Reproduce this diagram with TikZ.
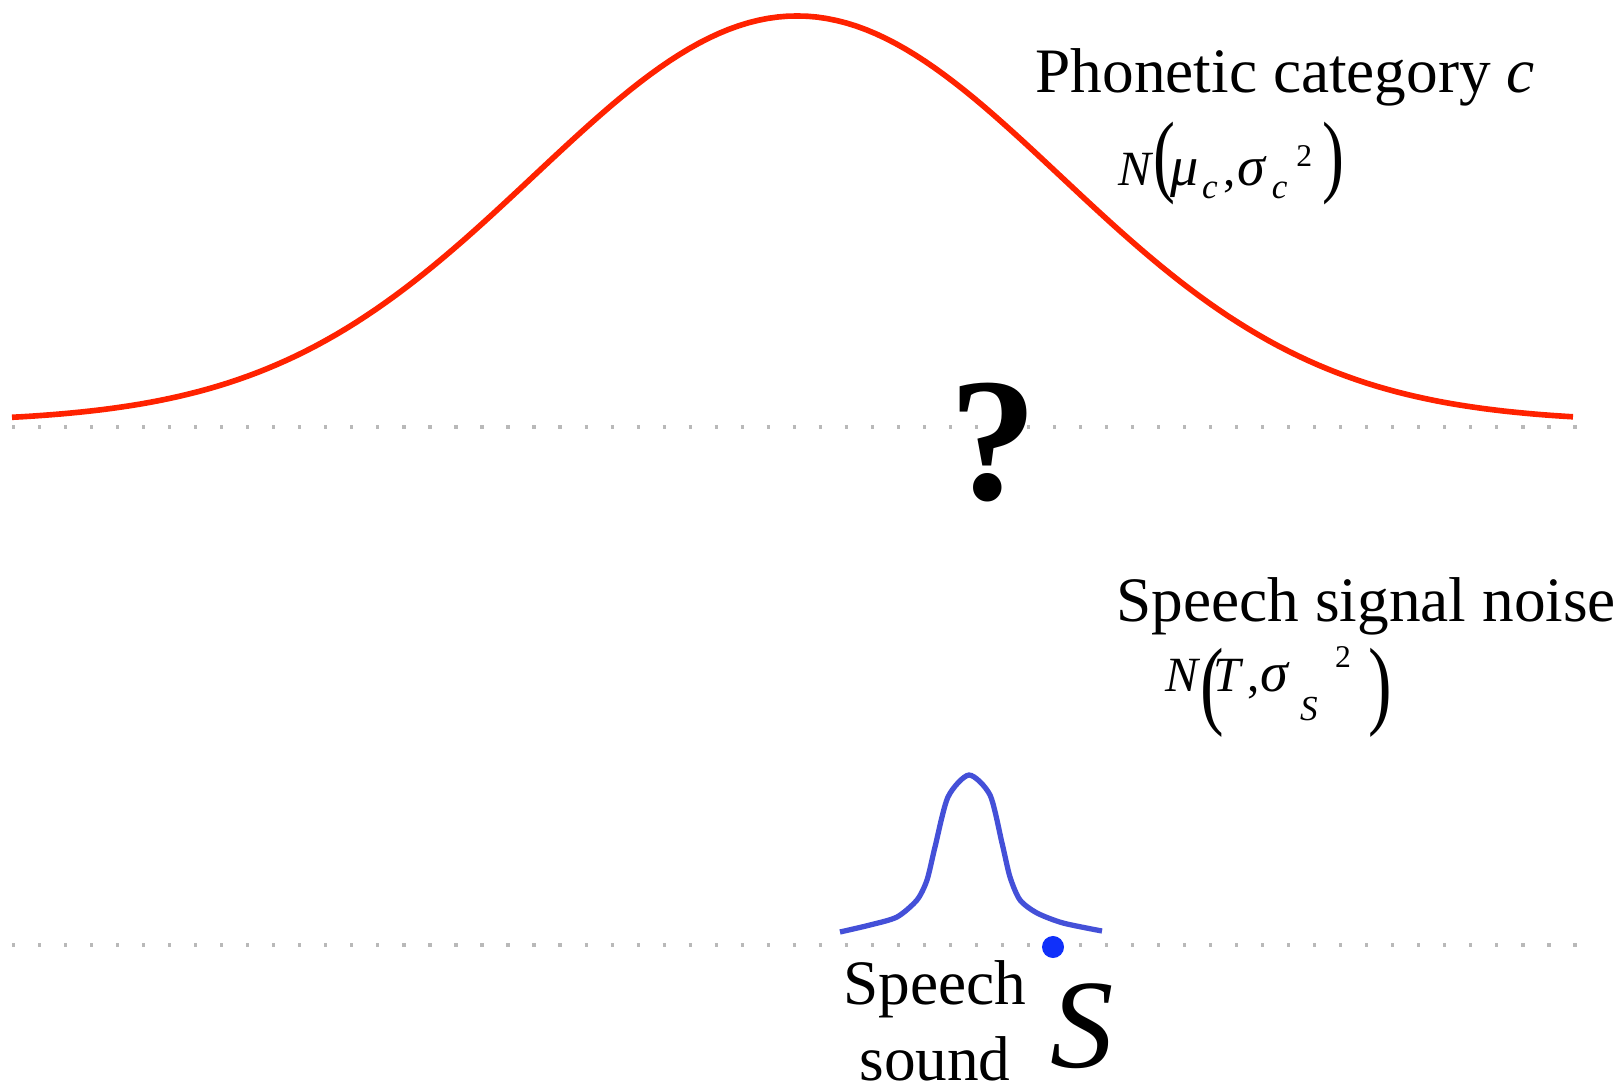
\documentclass[tikz,border=0pt]{standalone}
\usepackage{fontspec}
\usepackage{graphicx}
\setmainfont{Liberation Serif}
\usetikzlibrary{positioning}

\definecolor{catred}{RGB}{255,34,0}
\definecolor{noiseblue}{RGB}{68,80,216}
\definecolor{dotblue}{RGB}{16,48,250}

% pieces of the equation labels: tall thin bracket, greek letter, lowered index, raised power
\newcommand{\eqparen}[3]{\raisebox{#2}{\scalebox{0.72}[1]{\fontsize{#1}{#1}\selectfont #3}}}
\newcommand{\eqgreek}[1]{{\fontsize{16}{16}\selectfont\itshape #1}}
\newcommand{\eqsub}[2]{\raisebox{#1}{\fontsize{10}{10}\selectfont\itshape #2}}
\newcommand{\eqsup}[2]{\raisebox{#1}{\fontsize{9}{9}\selectfont #2}}

\begin{document}
\begin{tikzpicture}[x=0.01cm, y=-0.01cm,
    lbl/.style={inner sep=0pt, font=\fontsize{18}{21.5}\selectfont},
    frm/.style={inner sep=0pt, font=\fontsize{14}{16}\selectfont},
    axisline/.style={gray!55, line width=1pt, dash pattern=on 0.9pt off 6.5pt}]
    \useasboundingbox (0,0) rectangle (1623,1085);

    % Dotted axes
    \draw[axisline] (12,427) -- (1578,427);
    \draw[axisline] (12,945) -- (1578,945);

    % Phonetic category distribution
    \draw[catred, line width=1.6pt, domain=12:1573, samples=160]
        plot (\x, {422-406*exp(-0.5*((\x-797)/263)^2)});

    % Speech signal noise around the sound
    \draw[noiseblue, line width=1.5pt] plot[smooth, tension=0.45] coordinates {
        (840,932) (870,925) (897,917) (917,900) (927,880) (935,847)
        (948,797) (969,775) (990,795) (1002,843) (1010,877) (1020,900)
        (1037,913) (1063,923) (1102,931)};

    % Labels of the two distributions
    \node[lbl, anchor=base west] (catlabel) at (1035,93) {Phonetic category \textit{c}};
    \node[frm, anchor=base west] (catdist) at (1118,186)
        {\textit{N}\eqparen{26}{0pt}{(}\kern-1.5pt\eqgreek{μ}\kern1pt\eqsub{-3.5pt}{c}\kern1.5pt,\kern0.5pt\eqgreek{σ}\kern2pt\eqsub{-3.5pt}{c}\kern2.5pt\eqsup{5.5pt}{2}\kern3pt\eqparen{26}{0pt}{)}};
    \node[lbl, anchor=base west] (noiselabel) at (1116,622) {Speech signal noise};
    \node[frm, anchor=base west] (noisedist) at (1165,692)
        {\textit{N}\eqparen{28}{-7pt}{(}\kern-3pt\textit{T}\kern1pt,\eqgreek{σ}\kern3.5pt\eqsub{-8pt}{S}\kern5pt\eqsup{7pt}{2}\kern5pt\eqparen{28}{-7pt}{)}};

    \node[inner sep=0pt, font=\fontsize{50}{50}\selectfont\bfseries] (question) at (993,443) {?};

    % Speech sound
    \node[circle, fill=dotblue, inner sep=0pt, minimum size=0.22cm] (sound) at (1053,947) {};
    \node[lbl, align=center, anchor=base] (soundlabel) at (935,1080) {Speech\\sound};
    \node[inner sep=0pt, anchor=base west, font=\fontsize{36}{36}\selectfont\itshape] (soundname) at (1050,1067) {S};
\end{tikzpicture}
\end{document}
